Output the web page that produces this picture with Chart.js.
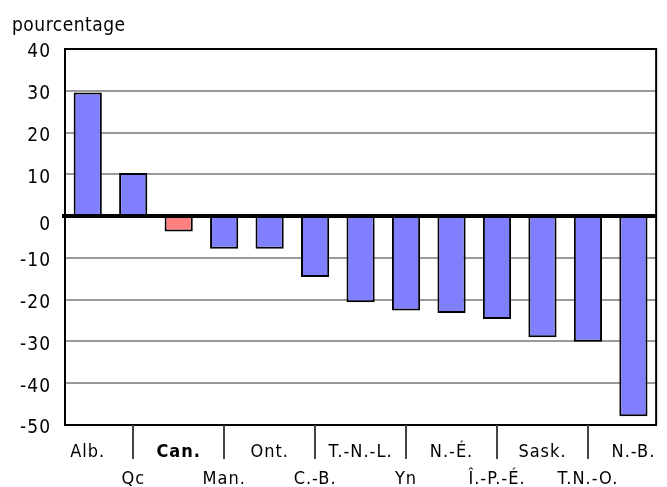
<!DOCTYPE html>
<html><head><meta charset="utf-8">
<script src="https://cdn.jsdelivr.net/npm/chart.js@4/dist/chart.umd.min.js"></script>
<style>html,body{margin:0;padding:0;background:#fff}#wrap{width:667px;height:487px}</style>
</head><body><div id="wrap"><canvas id="c" width="667" height="487"></canvas></div>
<script>
// order as in the picture
const provinces = ['Alb.','Qc','Can.','Man.','Ont.','C.-B.','T.-N.-L.','Yn','N.-É.','Î.-P.-É.','Sask.','T.N.-O.','N.-B.'];
const values = [29.6, 10.3, -3.7, -7.8, -7.8, -14.6, -20.6, -22.6, -23.2, -24.6, -29.0, -30.1, -47.9];
const yTicks = [40,30,20,10,0,-10,-20,-30,-40,-50];
const yTitle = 'pourcentage';
const highlight = 'Can.';

const FONT = "'DejaVu Sans Condensed','Liberation Sans Narrow',sans-serif";
const SPACING = '1px';

const deco = {
  id:'deco',
  beforeDraw(chart){ chart.ctx.letterSpacing = SPACING; },
  afterDraw(chart){
    const {ctx, chartArea:a, scales:{x}} = chart;
    ctx.save();
    ctx.strokeStyle='#000'; ctx.lineWidth=2;
    ctx.beginPath();
    ctx.moveTo(a.left, a.top); ctx.lineTo(a.right, a.top); ctx.lineTo(a.right, a.bottom);
    ctx.stroke();
    ctx.strokeStyle='#444'; ctx.lineWidth=2;
    provinces.forEach((p,i)=>{
      if(i%2===1){
        const px = Math.round(x.getPixelForValue(i));
        ctx.beginPath(); ctx.moveTo(px, a.bottom); ctx.lineTo(px, a.bottom+34); ctx.stroke();
      }
    });
    ctx.letterSpacing = '0.5px';
    ctx.fillStyle='#000'; ctx.font = "19px "+FONT; ctx.textAlign='left'; ctx.textBaseline='alphabetic';
    ctx.fillText(yTitle, 12, 31);
    ctx.restore();
  }
};

new Chart(document.getElementById('c'), {
  type:'bar',
  data:{ labels: provinces, datasets:[{
    data: values,
    backgroundColor: provinces.map(p=> p===highlight ? '#FF8080' : '#8080FF'),
    borderColor:'#000', borderWidth:2,
    categoryPercentage: 0.62, barPercentage: 1
  }]},
  options:{
    responsive:false, animation:false, devicePixelRatio:1,
    layout:{padding:{top:49,right:6,left:0,bottom:0}},
    plugins:{legend:{display:false}, tooltip:{enabled:false}, title:{display:false}},
    scales:{
      x:{
        grid:{display:false, drawTicks:false},
        border:{display:true,color:'#000',width:2},
        ticks:{
          color:'#000', autoSkip:false, maxRotation:0, padding:14,
          font:(ctx)=>({family:FONT, size:18, lineHeight:27/18, weight: provinces[ctx.index]===highlight?'bold':'normal'}),
          callback:(v,i)=> i%2===1 ? ['', provinces[i]] : provinces[i]
        },
        afterFit(s){ s.height = 62; }
      },
      y:{
        min:-50, max:40,
        afterBuildTicks(s){ s.ticks = yTicks.map(v=>({value:v})); },
        grid:{
          color:(ctx)=> ctx.tick && ctx.tick.value===0 ? '#000' : '#9a9a9a',
          lineWidth:(ctx)=> ctx.tick && ctx.tick.value===0 ? 4 : 2,
          drawTicks:true, tickLength:3,
          tickColor:(ctx)=> ctx.tick && ctx.tick.value===0 ? '#000' : 'rgba(0,0,0,0)'
        },
        border:{display:true,color:'#000',width:2},
        ticks:{
          color:'#000', padding:11,
          font:(ctx)=>({family:FONT, size:19, lineHeight: (ctx.tick && ctx.tick.value===0) ? 18/19 : 7/19}),
          callback:(v)=> ['', String(v)]
        },
        afterFit(s){ s.width = 65; }
      }
    }
  },
  plugins:[deco]
});
</script></body></html>
